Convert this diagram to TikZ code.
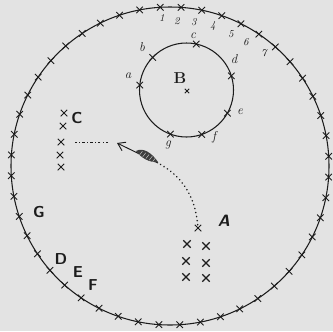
\documentclass[tikz,border=0pt]{standalone}
\usepackage{tikz}
\usetikzlibrary{arrows.meta,calc,shapes.misc}
\definecolor{Paper}{HTML}{E3E3E3}
\definecolor{Ink}{HTML}{1C1C1C}

\begin{document}
\begin{tikzpicture}[x=0.03cm,y=-0.03cm,
    ring/.style={draw=Ink,line width=0.9pt},
    xmk/.style={cross out,draw=Ink,line width=0.75pt,minimum size=4.8pt,inner sep=0pt},
    bigx/.style={xmk,line width=0.95pt,minimum size=5.4pt},
    lbl/.style={font=\fontsize{13.5}{15}\selectfont\sffamily\bfseries,text=Ink},
    sm/.style={font=\fontsize{11}{12}\selectfont\itshape,text=Ink},
    num/.style={font=\fontsize{9}{10}\selectfont\itshape,text=Ink},
    flight/.style={draw=Ink,line width=1.4pt,line cap=round,dash pattern=on 0.1pt off 3.4pt},
    trace/.style={draw=Ink,line width=0.6pt,dash pattern=on 2pt off 2pt on 0.6pt off 2pt},
    shaft/.style={draw=Ink,line width=0.8pt,-{Straight Barb[length=6pt,width=8pt]}}
  ]
  \fill[Paper] (0,0) rectangle (333,331);
  \useasboundingbox (0,0) rectangle (333,331);

  % outer ring with its marks
  \coordinate (O) at (170,166);
  \draw[ring] (O) circle[radius=159];
  \foreach \k in {0,...,47}
    \node[xmk] (r\k) at ($(O)+({-3.5-7.5*\k}:159)$) {};
  \foreach \d/\x/\y in {1/162/18,2/177/21,3/194/22,4/213/26,5/231/34,6/246/42,7/264/53}
    \node[num] (n\d) at (\x,\y) {\d};

  % inner ring B
  \coordinate (Bc) at (186.5,90);
  \draw[ring] (Bc) circle[radius=47];
  \foreach \n/\a in {a/174,b/136,c/78,d/17.5,e/-29.6,f/-71,g/-110}
    \node[xmk] (m\n) at ($(Bc)+({-\a}:47)$) {};
  \foreach \n/\x/\y in {a/128/76,b/142/47,c/193/36,d/234/59,e/240/112,f/214/137,g/168/145}
    \node[sm] (l\n) at (\x,\y) {\n};
  \node[xmk,minimum size=3pt] (bx) at (187,91) {};
  \node[font=\fontsize{13.5}{15}\selectfont\bfseries,text=Ink] (lB) at (180,78) {B};

  % group C
  \foreach \i/\x/\y in {1/64/113,2/63/126,3/61/142,4/60/155,5/61/167}
    \node[xmk] (c\i) at (\x,\y) {};
  \node[lbl] (lC) at (77,118) {C};

  % group A
  \node[xmk] (atop) at (198,228) {};
  \foreach \i/\x/\y in {1/187/244,2/206/246,3/186/261,4/206/263,5/186/277,6/206/278}
    \node[bigx] (a\i) at (\x,\y) {};
  \node[lbl,font=\fontsize{14}{15}\selectfont\sffamily\bfseries\itshape] (lA) at (224,221) {A};

  % D E F G
  \node[lbl] (lG) at (39,212) {G};
  \node[lbl] (lD) at (61,259) {D};
  \node[lbl] (lE) at (78,272) {E};
  \node[lbl] (lF) at (93,285) {F};

  % the arrow and its path
  \coordinate (tail) at (158,163);
  \coordinate (tip) at (117,143);
  \coordinate (aim) at (108,142);
  \coordinate (aimend) at (75,142);
  \draw[flight] (atop) .. controls (195,196) and (182,176) .. (tail);
  \draw[shaft] (tail) -- (tip);
  \fill[Ink!85] (136,151) .. controls (143,147) and (152,153) .. (158,162)
    .. controls (150,163) and (141,158) .. cycle;
  \foreach \t in {0.2,0.35,0.5,0.65,0.8}
    \draw[Paper,line width=0.3pt] ($(136,151)!\t!(158,162)+(-1,2)$) -- ++(3,-4);
  \draw[trace] (aim) -- (aimend);
\end{tikzpicture}
\end{document}
